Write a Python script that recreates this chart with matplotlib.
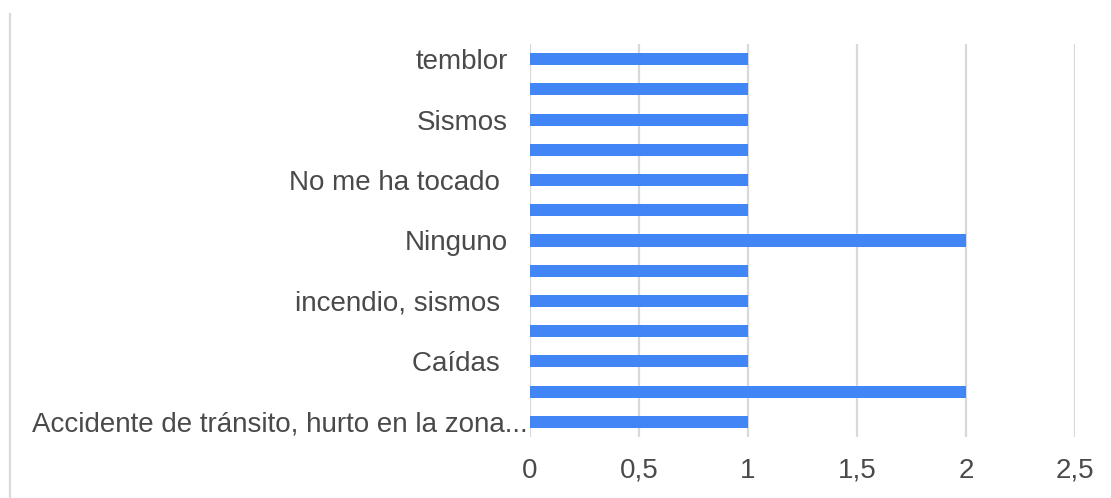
import matplotlib
matplotlib.use("Agg")
import matplotlib.pyplot as plt
from matplotlib.lines import Line2D
import matplotlib.transforms as mtransforms

# Data (top to bottom)
labels = ["temblor", "", "Sismos", "", "No me ha tocado ", "", "Ninguno", "",
          "incendio, sismos ", "", "Caídas ", "", "Accidente de tránsito, hurto en la zona..."]
values = [1, 1, 1, 1, 1, 1, 2, 1, 1, 1, 1, 2, 1]
xticks = [0, 0.5, 1, 1.5, 2, 2.5]
xticklabels = ["0", "0,5", "1", "1,5", "2", "2,5"]

plt.rcParams['font.family'] = ['Liberation Sans', 'DejaVu Sans']
TEXT_COLOR = "#4a4a4a"
FS = 20

fig = plt.figure(figsize=(11.11, 4.98), dpi=100)
ax = fig.add_axes([530/1111, 1-437/498, (1075-530)/1111, (437-44)/498])

pos = list(range(len(values)))
ax.barh(pos, values, height=0.40, color="#4285f4", zorder=3)
ax.set_ylim(len(values) - 0.5, -0.5)
ax.set_xlim(0, 2.5)
ax.set_xticks(xticks)
ax.set_xticklabels(xticklabels)
ax.set_yticks([])
ax.grid(axis="x", color="#d9d9d9", linewidth=1.6, zorder=0)
for s in ax.spines.values():
    s.set_visible(False)
ax.tick_params(axis="both", length=0, labelsize=FS, labelcolor=TEXT_COLOR)
ax.tick_params(axis="x", pad=15)

# category labels
trans = mtransforms.blended_transform_factory(ax.transAxes, ax.transData)
last = len(labels) - 1
for i, lab in enumerate(labels):
    if not lab:
        continue
    off = -2 if i == last else -22
    t = ax.text(0, i, lab, transform=trans + mtransforms.ScaledTranslation(off/100, 0, fig.dpi_scale_trans),
                ha="right", va="center_baseline", fontsize=FS, color=TEXT_COLOR)

# left frame line
fig.add_artist(Line2D([10/1111, 10/1111], [0, 1-14/498], color="#dadada", linewidth=1.6,
                      transform=fig.transFigure))

fig.savefig("out.png", dpi=100, facecolor="white")
